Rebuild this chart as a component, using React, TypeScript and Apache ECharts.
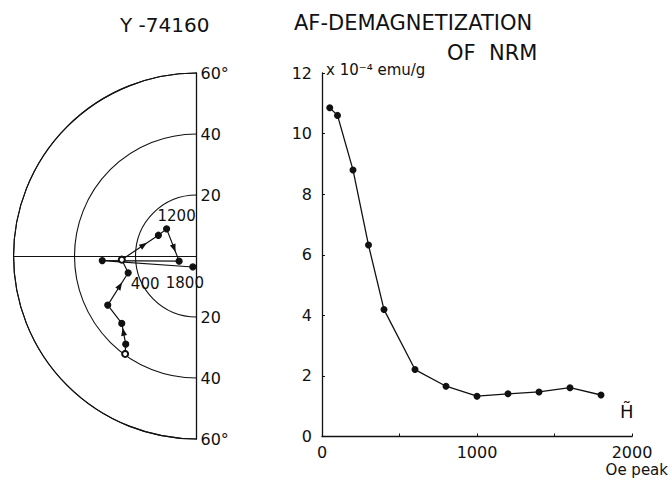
import React, { useEffect, useRef } from 'react';
import * as echarts from 'echarts';

// Right panel: AF demagnetization of NRM
const fieldOe = [50, 100, 200, 300, 400, 600, 800, 1000, 1200, 1400, 1600, 1800];
const intensity = [10.85, 10.6, 8.8, 6.32, 4.19, 2.21, 1.66, 1.33, 1.41, 1.47, 1.61, 1.37];
const intensityTicks = [0, 2, 4, 6, 8, 10, 12];
const fieldTicks = [0, 1000, 2000];

// Left panel: direction path (plot units, degrees from centre)
const pathX = [-23.4, -23.2, -24.5, -29.1, -22.4, -24.5, -12.5, -9.8, -5.7, -30.9, -1.2];
const pathY = [-32.1, -28.9, -22.1, -16.1, -5.5, -1.2, 6.8, 8.9, -1.7, -1.5, -3.6];
const pathOpen = [true, false, false, false, false, true, false, false, false, false, false];
const pathLabels = ['', '', '', '', '400', '', '', '1200', '', '', '1800'];
const arrowSegments = [1, 3, 5, 7];
const circleTicks = [20, 40, 60];

const FONT = 'DejaVu Sans';
const BLACK = '#111';

const labelOffsets: Record<string, number[]> = {
  '400': [17, 11],
  '1200': [10, -13],
  '1800': [-8, 16],
};

export default function App() {
  const ref = useRef<HTMLDivElement>(null);
  useEffect(() => {
    if (!ref.current) return;
    const chart = echarts.init(ref.current, null, { renderer: 'svg' });
    const axisLineStyle = { color: BLACK, width: 1.3 };
    const option: any = {
      animation: false,
      backgroundColor: '#fff',
      textStyle: { fontFamily: FONT, color: BLACK },
      polar: { center: [196.5, 256], radius: 183 },
      angleAxis: {
        type: 'value',
        min: 0,
        max: 180,
        startAngle: 90,
        endAngle: 270,
        clockwise: false,
        axisLine: { show: true, lineStyle: { color: BLACK, width: 1.1 } },
        axisTick: { show: false },
        axisLabel: { show: false },
        splitLine: { show: false },
      },
      radiusAxis: {
        type: 'value',
        min: 0,
        max: circleTicks[circleTicks.length - 1],
        interval: 20,
        axisLine: { show: false },
        axisTick: { show: false },
        axisLabel: { show: false },
        splitLine: { show: true, lineStyle: { color: BLACK, width: 1.1 } },
      },
      grid: [
        { left: 13.5, top: 73, width: 183, height: 366 },
        { left: 322, top: 73, width: 310, height: 363.5 },
      ],
      xAxis: [
        {
          gridIndex: 0,
          type: 'value',
          min: -60,
          max: 0,
          axisLine: { show: true, onZero: true, lineStyle: { color: BLACK, width: 1.1 } },
          axisTick: { show: false },
          axisLabel: { show: false },
          splitLine: { show: false },
        },
        {
          gridIndex: 1,
          type: 'value',
          min: fieldTicks[0],
          max: fieldTicks[fieldTicks.length - 1],
          interval: 1000,
          axisLine: { show: true, lineStyle: axisLineStyle },
          axisTick: { show: true, inside: true, length: 3, lineStyle: { color: BLACK } },
          minorTick: { show: true, splitNumber: 2, length: 3, lineStyle: { color: BLACK } },
          axisLabel: {
            color: BLACK,
            fontSize: 16,
            fontFamily: FONT,
            margin: 8,
            formatter: (v: number) => String(v),
          },
          splitLine: { show: false },
        },
      ],
      yAxis: [
        {
          gridIndex: 0,
          type: 'value',
          position: 'right',
          min: -60,
          max: 60,
          interval: 20,
          axisLine: { show: true, onZero: false, lineStyle: { color: BLACK, width: 1.3 } },
          axisTick: { show: false },
          axisLabel: {
            color: BLACK,
            fontSize: 16,
            fontFamily: FONT,
            margin: 4,
            formatter: (v: number) => (v === 0 ? '' : Math.abs(v) === 60 ? '60°' : String(Math.abs(v))),
          },
          splitLine: { show: false },
        },
        {
          gridIndex: 1,
          type: 'value',
          min: intensityTicks[0],
          max: intensityTicks[intensityTicks.length - 1],
          interval: 2,
          axisLine: { show: true, lineStyle: axisLineStyle },
          axisTick: { show: true, inside: true, length: 3, lineStyle: { color: BLACK } },
          axisLabel: { color: BLACK, fontSize: 16, fontFamily: FONT, margin: 10 },
          splitLine: { show: false },
        },
      ],
      series: [
        {
          type: 'line',
          xAxisIndex: 0,
          yAxisIndex: 0,
          data: pathX.map((x, i) => {
            const item: any = {
              value: [x, pathY[i]],
              symbol: pathOpen[i] ? 'emptyCircle' : 'circle',
              symbolSize: 6,
            };
            if (pathLabels[i]) {
              item.label = {
                show: true,
                formatter: pathLabels[i],
                position: 'inside',
                offset: labelOffsets[pathLabels[i]],
                color: BLACK,
                fontSize: 15,
                fontFamily: FONT,
              };
            }
            return item;
          }),
          lineStyle: { color: BLACK, width: 1.2 },
          itemStyle: { color: BLACK, borderColor: BLACK, borderWidth: 1.2 },
          z: 4,
        },
        {
          type: 'custom',
          xAxisIndex: 0,
          yAxisIndex: 0,
          silent: true,
          z: 5,
          encode: { x: 0, y: 1 },
          data: arrowSegments.map((i) => [pathX[i], pathY[i], pathX[i + 1], pathY[i + 1]]),
          renderItem: (params: any, api: any) => {
            const a = api.coord([api.value(0), api.value(1)]);
            const b = api.coord([api.value(2), api.value(3)]);
            const t = 0.6;
            const mx = a[0] + (b[0] - a[0]) * t;
            const my = a[1] + (b[1] - a[1]) * t;
            const ang = Math.atan2(b[1] - a[1], b[0] - a[0]);
            const L = 8;
            const W = 3;
            const c = Math.cos(ang);
            const s = Math.sin(ang);
            const tip = [mx + (c * L) / 2, my + (s * L) / 2];
            const bx = mx - (c * L) / 2;
            const by = my - (s * L) / 2;
            return {
              type: 'polygon',
              shape: {
                points: [tip, [bx - s * W, by + c * W], [bx + s * W, by - c * W]],
              },
              style: { fill: BLACK },
            };
          },
        },
        {
          type: 'line',
          xAxisIndex: 1,
          yAxisIndex: 1,
          data: fieldOe.map((x, i) => [x, intensity[i]]),
          symbol: 'circle',
          symbolSize: 7,
          lineStyle: { color: BLACK, width: 1.3 },
          itemStyle: { color: BLACK },
        },
      ],
      graphic: [
        {
          type: 'text',
          left: 120,
          top: 15,
          style: { text: 'Y -74160', font: `20px "${FONT}"`, fill: BLACK },
        },
        {
          type: 'text',
          left: 294,
          top: 12,
          style: { text: 'AF-DEMAGNETIZATION', font: `21px "${FONT}"`, fill: BLACK },
        },
        {
          type: 'text',
          left: 447,
          top: 42,
          style: { text: 'OF  NRM', font: `21px "${FONT}"`, fill: BLACK },
        },
        {
          type: 'text',
          left: 326,
          top: 62,
          style: { text: 'x 10⁻⁴ emu/g', font: `15px "${FONT}"`, fill: BLACK },
        },
        {
          type: 'text',
          left: 620,
          top: 402,
          style: { text: 'H̃', font: `18px "${FONT}"`, fill: BLACK },
        },
        {
          type: 'text',
          right: 2,
          top: 462,
          style: { text: 'Oe peak', font: `15px "${FONT}"`, fill: BLACK },
        },
      ],
    };
    chart.setOption(option);
    return () => chart.dispose();
  }, []);
  return (
    <div
      ref={ref}
      style={{ position: 'fixed', left: 0, top: 0, width: 670, height: 480, background: '#fff' }}
    />
  );
}
